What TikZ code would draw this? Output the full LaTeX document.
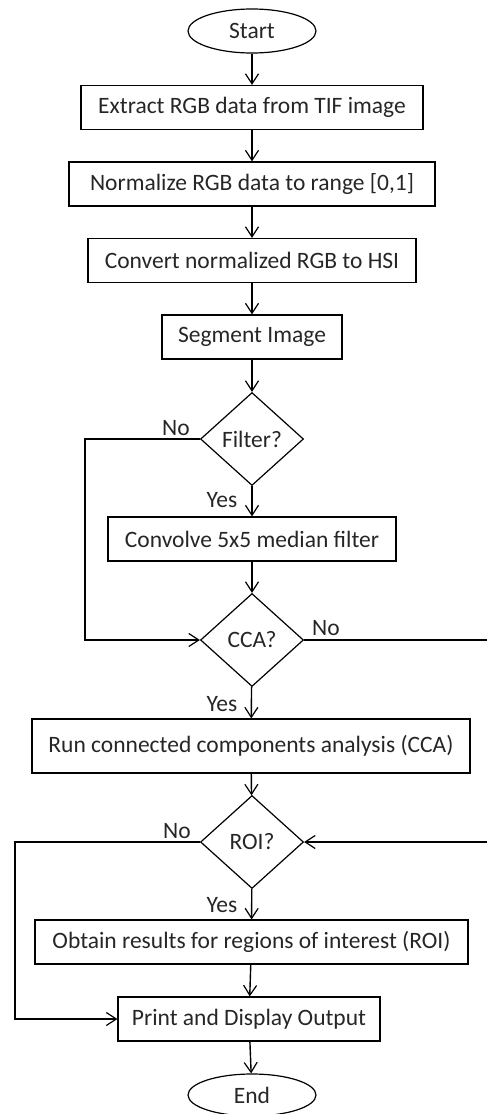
\documentclass[tikz,border=0pt]{standalone}
\usepackage{fontspec}
\setmainfont{Carlito}
\usetikzlibrary{shapes.geometric,arrows.meta}
\begin{document}
\begin{tikzpicture}[x=1pt,y=-1pt,
  every node/.style={font=\fontsize{23.5}{26}\selectfont, text=black!85},
  box/.style={draw, line width=1.2pt, inner sep=0pt, minimum height=44pt},
  term/.style={draw, ellipse, line width=1.2pt, inner sep=0pt, minimum width=128pt, minimum height=44pt},
  dec/.style={draw, diamond, line width=1.2pt, inner sep=0pt, minimum width=103pt, minimum height=93pt},
  arr/.style={line width=1.4pt, -{Straight Barb[length=10pt,width=13pt,line width=1.2pt]}},
  loop/.style={line width=2pt, -{Straight Barb[length=10pt,width=13pt,line width=1.2pt]}},
  lbl/.style={inner sep=0pt}]
\useasboundingbox (0,0) rectangle (487,1114);
\node[term] (start) at (252,31) {Start};
\node[box, minimum width=342pt] (b1) at (252,107.5) {Extract RGB data from TIF image};
\node[box, minimum width=366pt] (b2) at (252,184) {Normalize RGB data to range [0,1]};
\node[box, minimum width=328pt] (b3) at (252,260.5) {Convert normalized RGB to HSI};
\node[box, minimum width=180pt] (b4) at (252,337) {Segment Image};
\node[dec] (filt) at (252,439) {Filter?};
\node[box, minimum width=288pt] (conv) at (252,539) {Convolve 5x5 median filter};
\node[dec] (cca) at (252,640) {CCA?};
\node[box, minimum width=438pt, minimum height=54pt] (run) at (251,746) {Run connected components analysis (CCA)};
\node[dec] (roi) at (252,842) {ROI?};
\node[box, minimum width=433pt] (obt) at (251.5,942) {Obtain results for regions of interest (ROI)};
\node[box, minimum width=262pt] (prt) at (249,1019) {Print and Display Output};
\node[term, minimum height=42pt] (end) at (252,1095) {End};

\coordinate (fl) at (85,439);
\coordinate (fc) at (85,640);
\coordinate (cr) at (493,640);
\coordinate (rr) at (493,842);
\coordinate (rl) at (15,842);
\coordinate (pl) at (15,1019);

\draw[arr] (start) -- (b1);
\draw[arr] (b1) -- (b2);
\draw[arr] (b2) -- (b3);
\draw[arr] (b3) -- (b4);
\draw[arr] (b4) -- (filt);
\draw[arr] (filt) -- (conv);
\draw[arr] (conv) -- (cca);
\draw[arr] (cca) -- (run);
\draw[arr] (run) -- (roi);
\draw[arr] (roi) -- (obt);
\draw[arr] (obt) -- (prt);
\draw[arr] (prt) -- (end);

\draw[loop] (filt.west) -- (fl) -- (fc) -- (cca.west);
\draw[loop] (cca.east) -- (cr) -- (rr) -- (roi.east);
\draw[loop] (roi.west) -- (rl) -- (pl) -- (prt.west);

\node[lbl] (n1) at (176,428) {No};
\node[lbl] (y1) at (222,500) {Yes};
\node[lbl] (n2) at (326,628) {No};
\node[lbl] (y2) at (222,704) {Yes};
\node[lbl] (n3) at (177,831) {No};
\node[lbl] (y3) at (222,905) {Yes};
\end{tikzpicture}
\end{document}
